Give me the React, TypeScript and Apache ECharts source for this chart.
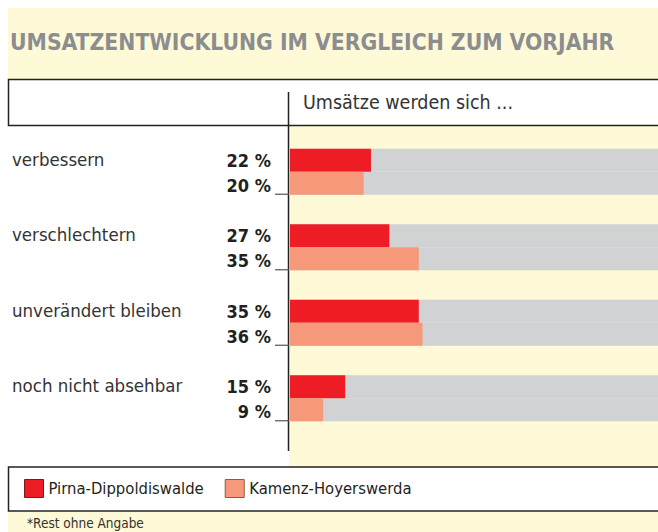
import React, { useEffect, useRef } from "react";
import * as echarts from "echarts";

const categories = ["verbessern", "verschlechtern", "unverändert bleiben", "noch nicht absehbar"];
const pirna = [22, 27, 35, 15];
const kamenz = [20, 35, 36, 9];
const seriesNames = ["Pirna-Dippoldiswalde", "Kamenz-Hoyerswerda"];
const title = "UMSATZENTWICKLUNG IM VERGLEICH ZUM VORJAHR";
const subtitle = "Umsätze werden sich ...";
const footnote = "*Rest ohne Angabe";

const FONT = "'DejaVu Sans Condensed', 'DejaVu Sans', sans-serif";
const YELLOW = "#fef9d6";
const DARK = "#231f20";
const BAR_W = 23;

export default function App() {
  const ref = useRef<HTMLDivElement>(null);
  useEffect(() => {
    if (!ref.current) return;
    const chart = echarts.init(ref.current, undefined, { renderer: "svg" });
    const pctLabel = {
      show: true,
      position: "left",
      distance: 19,
      formatter: "{c} %",
      fontSize: 18,
      fontWeight: "bold",
      color: DARK,
      fontFamily: FONT,
    };
    const base: any = {
      animation: false,
      textStyle: { fontFamily: FONT },
      grid: { left: 290, width: 373, top: 134, height: 302 },
      xAxis: { type: "value", min: 0, max: 100, show: false },
      yAxis: {
        type: "category",
        data: categories,
        inverse: true,
        axisLine: { show: false },
        axisTick: { show: false },
        splitLine: { show: false },
        axisLabel: {
          align: "left",
          margin: 278,
          fontSize: 18.5,
          color: "#333",
          fontFamily: FONT,
          verticalAlign: "bottom",
          lineHeight: 25,
        },
      },
      legend: {
        left: 24,
        top: 479,
        padding: 0,
        itemWidth: 19,
        itemHeight: 18,
        itemGap: 21,
        icon: "rect",
        textStyle: { fontSize: 16.5, color: DARK, fontFamily: FONT },
        data: [
          { name: seriesNames[0], itemStyle: { borderColor: "#7a1a1a", borderWidth: 1 } },
          { name: seriesNames[1], itemStyle: { borderColor: "#8a5a4a", borderWidth: 1 } },
        ],
      },
      series: [
        {
          name: seriesNames[0],
          type: "bar",
          data: pirna,
          barWidth: BAR_W,
          barGap: "0%",
          itemStyle: { color: "#ee1d25" },
          showBackground: true,
          backgroundStyle: { color: "#d1d2d4" },
          label: pctLabel,
        },
        {
          name: seriesNames[1],
          type: "bar",
          data: kamenz,
          barWidth: BAR_W,
          barGap: "0%",
          itemStyle: { color: "#f5997a" },
          showBackground: true,
          backgroundStyle: { color: "#d1d2d4" },
          label: { ...pctLabel, offset: [0, 2] },
        },
      ],
    };
    chart.setOption(base);

    const ticks = categories.map((c, i) => {
      const y = chart.convertToPixel({ yAxisIndex: 0 }, c) as number;
      return {
        type: "line",
        id: "tick" + i,
        z: 50,
        shape: { x1: 275, y1: y + BAR_W - 0.5, x2: 289, y2: y + BAR_W - 0.5 },
        style: { stroke: "#555", lineWidth: 1.2 },
      };
    });

    chart.setOption({
      graphic: [
        { type: "rect", id: "hdr", z: -10, shape: { x: 8, y: 8, width: 650, height: 71 }, style: { fill: YELLOW } },
        {
          type: "text", id: "title", z: 50, x: 10, y: 42,
          style: { text: title, fontFamily: FONT, fontWeight: "bold", fontSize: 22.7, fill: "#8b8d90", verticalAlign: "middle" },
        },
        { type: "rect", id: "box", z: -9, shape: { x: 8.5, y: 79.5, width: 660, height: 46 }, style: { fill: "#fff", stroke: "#222", lineWidth: 1.5 } },
        {
          type: "text", id: "sub", z: 50, x: 303, y: 102,
          style: { text: subtitle, fontFamily: FONT, fontSize: 19.5, fill: "#333", verticalAlign: "middle" },
        },
        { type: "rect", id: "plotbg", z: -10, shape: { x: 289, y: 126, width: 369, height: 341 }, style: { fill: YELLOW } },
        { type: "line", id: "vline", z: 50, shape: { x1: 288.5, y1: 92, x2: 288.5, y2: 451 }, style: { stroke: "#222", lineWidth: 1.5 } },
        { type: "rect", id: "legbox", z: -9, shape: { x: 8.5, y: 467, width: 660, height: 44 }, style: { fill: "#fff", stroke: "#222", lineWidth: 1.5 } },
        { type: "rect", id: "foot", z: -10, shape: { x: 8, y: 512, width: 650, height: 20 }, style: { fill: YELLOW } },
        {
          type: "text", id: "fn", z: 50, x: 27, y: 523,
          style: { text: footnote, fontFamily: FONT, fontSize: 13.5, fill: "#333", verticalAlign: "middle" },
        },
        ...ticks,
      ],
    });

    return () => chart.dispose();
  }, []);
  return (
    <div
      ref={ref}
      style={{ position: "absolute", left: 0, top: 0, width: 658, height: 532, background: "#fff" }}
    />
  );
}
